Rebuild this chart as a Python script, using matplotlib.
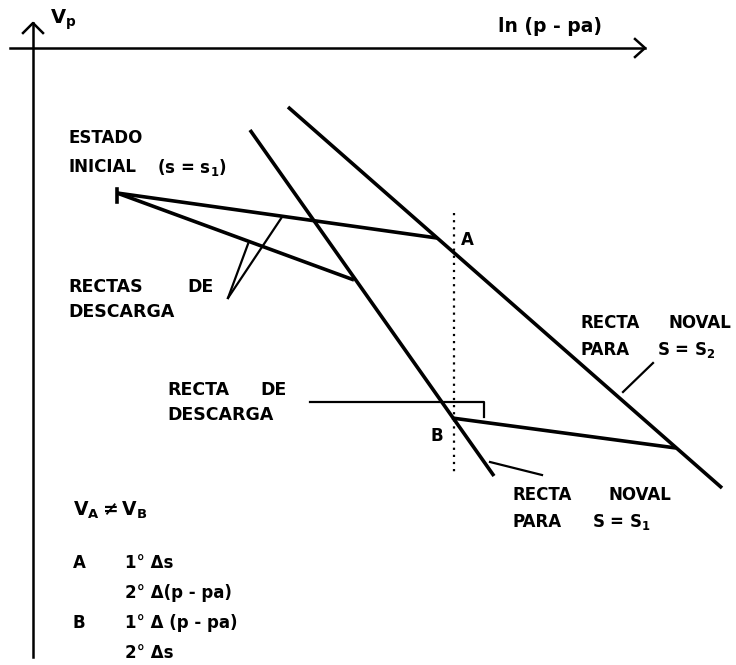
''' Consolidation diagram: specific volume vs ln(p - pa), with the virgin
    (noval) lines for two suctions and the unloading (descarga) lines.
    Everything is drawn in pixel units of the output image.
'''
import matplotlib
matplotlib.use('Agg')
import matplotlib.pyplot as plt

plt.rcParams['font.family'] = ['DejaVu Sans']
plt.rcParams['mathtext.fontset'] = 'dejavusans'
plt.rcParams['mathtext.default'] = 'bf'

W, H = 736, 665

# axes (origin corner, arrow tips)
origin = (33, 48)
x_tip = (645, 48)
y_tip = (33, 23)
x_start = 10
y_end = 657

# state points
init = (117, 193)            # estado inicial, s = s1
up_end = (437, 238)          # upper unloading line reaches noval S2
low_end = (354, 280)         # lower unloading line reaches noval S1
pt_B = (452, 418)            # B on noval S1
B_end = (676, 448)           # unloading from noval S2 down to B

# virgin (noval) lines
noval_s1 = [(250, 130), (494, 476)]
noval_s2 = [(288, 107), (722, 488)]

# vertical dotted line through A and B
dot_x = 454
dot_y = (213, 473)

# leader lines for the labels
leader_rectas = [[(282, 217), (228, 298)], [(248, 244), (228, 298)]]
leader_descarga = [(310, 402), (484, 402), (484, 417)]
leader_s2 = [(653, 363), (623, 392)]
leader_s1 = [(490, 462), (542, 475)]

fig = plt.figure(figsize=(W / 100, H / 100), dpi=100)
ax = fig.add_axes([0, 0, 1, 1])
ax.set_xlim(0, W)
ax.set_ylim(H, 0)
ax.axis('off')

k = 'black'
lw_main = 2.6

# coordinate axes with open arrow heads
ax.plot([x_start, x_tip[0]], [origin[1], origin[1]], color=k, lw=1.8)
ax.plot([origin[0], origin[0]], [y_tip[1], y_end], color=k, lw=1.8)
ax.plot([x_tip[0] - 10, x_tip[0], x_tip[0] - 10],
        [origin[1] - 9, origin[1], origin[1] + 9], color=k, lw=1.8)
ax.plot([y_tip[0] - 10, y_tip[0], y_tip[0] + 10],
        [y_tip[1] + 10, y_tip[1], y_tip[1] + 10], color=k, lw=1.8)

# noval lines
for seg in (noval_s1, noval_s2):
    xs, ys = zip(*seg)
    ax.plot(xs, ys, color=k, lw=lw_main, solid_capstyle='butt')

# unloading lines
for a, b in ((init, up_end), (init, low_end), (pt_B, B_end)):
    ax.plot([a[0], b[0]], [a[1], b[1]], color=k, lw=lw_main,
            solid_capstyle='butt')
ax.plot([init[0], init[0]], [init[1] - 4, init[1] + 9], color=k, lw=2.6)

# dotted vertical
ax.plot([dot_x, dot_x], dot_y, color=k, lw=1.6, linestyle=(0, (1, 2.2)))

# leaders
for seg in leader_rectas + [leader_descarga, leader_s2, leader_s1]:
    xs, ys = zip(*seg)
    ax.plot(xs, ys, color=k, lw=1.6)

# labels
fs = 12


def label(x, y, s, size=fs):
    ax.text(x, y, s, fontsize=size, fontweight='bold', ha='left',
            va='center', color=k)


label(50, 20, r'$V_p$', 14)
label(498, 27, 'ln (p - pa)', 13.5)

label(68, 138, 'ESTADO')
label(68, 167, 'INICIAL')
label(157, 167, r'(s = $s_1$)')

label(68, 287, 'RECTAS', 12.5)
label(187, 287, 'DE', 12.5)
label(68, 312, 'DESCARGA', 12.5)

label(167, 390, 'RECTA', 12.5)
label(260, 390, 'DE', 12.5)
label(167, 415, 'DESCARGA', 12.5)

label(580, 323, 'RECTA')
label(668, 323, 'NOVAL')
label(580, 350, 'PARA')
label(657, 350, r'S = $S_2$')

label(513, 495, 'RECTA')
label(608, 495, 'NOVAL')
label(513, 522, 'PARA')
label(592, 522, r'S = $S_1$')

label(461, 240, 'A')
label(430, 436, 'B')

label(73, 510, r'$V_A \neq V_B$', 13.5)
label(73, 563, 'A')
label(125, 563, '1° Δs')
label(125, 593, '2° Δ(p - pa)')
label(73, 623, 'B')
label(125, 623, '1° Δ (p - pa)')
label(125, 653, '2° Δs')

fig.savefig('out.png', dpi=100)
plt.close(fig)
